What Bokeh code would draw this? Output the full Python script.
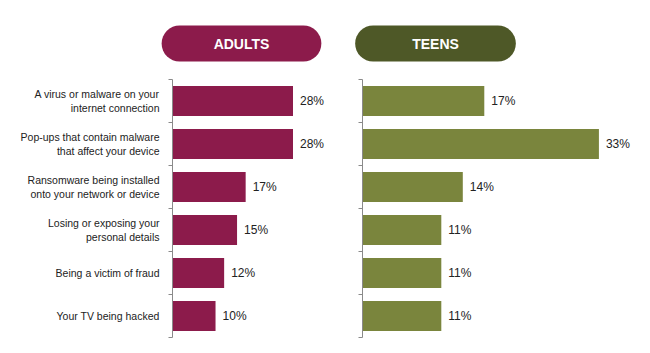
from bokeh.plotting import figure
from bokeh.layouts import row, column
from bokeh.models import Range1d, FixedTicker, Label, ColumnDataSource
from bokeh.core.properties import value
from bokeh.embed import file_html
from bokeh.resources import INLINE

categories = [
    "A virus or malware on your\ninternet connection",
    "Pop-ups that contain malware\nthat affect your device",
    "Ransomware being installed\nonto your network or device",
    "Losing or exposing your\npersonal details",
    "Being a victim of fraud",
    "Your TV being hacked",
]
adults = [28, 28, 17, 15, 12, 10]
teens = [17, 33, 14, 11, 11, 11]
panel_titles = ["ADULTS", "TEENS"]

FONT = "Liberation Sans"
ADULT_BAR = "#8C1B4B"
ADULT_HEAD = "#8C1B4B"
TEEN_BAR = "#7A853D"
TEEN_HEAD = "#4E5827"
AXIS_COL = "#8a8a8a"

n = len(categories)
pos = [i + 0.5 for i in range(n)]


def make_panel(vals, bar_color, width, left_border, x_end, show_labels):
    p = figure(width=width, height=274, output_backend="svg", toolbar_location=None,
               x_range=Range1d(0, x_end), y_range=Range1d(n, 0),
               x_axis_location=None, min_border_left=left_border, min_border_right=0,
               min_border_top=0, min_border_bottom=16)
    p.outline_line_color = None
    p.grid.visible = False

    src = ColumnDataSource(dict(y=pos, v=vals, t=[f"{v}%" for v in vals]))
    p.hbar(y="y", right="v", left=0, height=0.7, source=src, fill_color=bar_color, line_color=None)
    p.text(x="v", y="y", text="t", source=src, x_offset=7, text_baseline="middle",
           text_align="left", text_font=value(FONT), text_font_size="12px", text_color="#222222")

    ax = p.yaxis[0]
    if show_labels:
        ax.ticker = FixedTicker(ticks=pos, minor_ticks=list(range(n + 1)))
        ax.major_label_overrides = {pos[i]: categories[i] for i in range(n)}
    else:
        ax.ticker = FixedTicker(ticks=[], minor_ticks=list(range(n + 1)))
    ax.major_tick_line_color = None
    ax.major_tick_out = 0
    ax.major_tick_in = 0
    ax.minor_tick_out = 4
    ax.minor_tick_in = 0
    ax.minor_tick_line_color = AXIS_COL
    ax.axis_line_color = AXIS_COL
    ax.major_label_standoff = 9
    ax.major_label_text_font = FONT
    ax.major_label_text_font_size = "10.5px"
    ax.major_label_text_color = "#222222"
    return p


left = make_panel(adults, ADULT_BAR, 345, 172, 40.2, True)
right = make_panel(teens, TEEN_BAR, 305, 17, 40.2, False)

# header strip (pixel-scaled ranges)
hdr = figure(width=650, height=79, output_backend="svg", toolbar_location=None,
             x_range=Range1d(0, 650), y_range=Range1d(0, 79),
             x_axis_location=None, y_axis_location=None,
             min_border_left=0, min_border_right=0, min_border_top=0, min_border_bottom=0)
hdr.outline_line_color = None
hdr.grid.visible = False
for txt, cx, col, pad in [(panel_titles[0], 241, ADULT_HEAD, 52), (panel_titles[1], 435, TEEN_HEAD, 57)]:
    hdr.add_layout(Label(x=cx, y=36, text=txt, text_align="center", text_baseline="middle",
                         text_font=FONT, text_font_size="14px", text_font_style="bold",
                         text_color="white", background_fill_color=col,
                         border_radius=18, padding=(pad, 10)))

layout = column(hdr, row(left, right))
open("out.html", "w").write(file_html(layout, INLINE))
